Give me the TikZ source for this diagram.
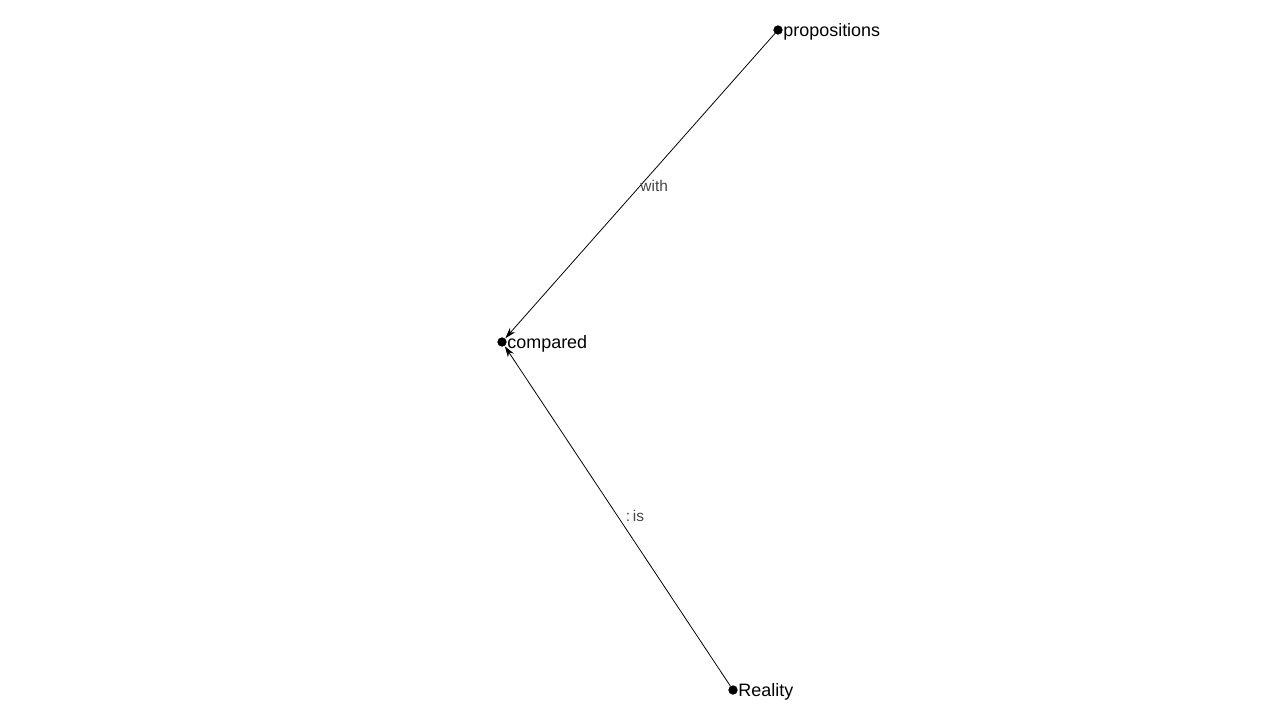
\documentclass[tikz,border=0pt]{standalone}
\usepackage{fontspec}
\setsansfont{Liberation Sans}
\usetikzlibrary{positioning, arrows.meta}
\tikzset{
  every node/.style={font=\sffamily},
  dot/.style={draw, circle, fill=black, minimum size=0.17cm, inner sep=0pt},
  lbl/.style={font=\sffamily\fontsize{10.2}{12}\selectfont, inner sep=0pt, label distance=0.3pt,
              yshift=-0.03cm},
  arr/.style={-{Stealth[length=2.2mm, width=1.4mm]}, line width=0.45pt, shorten >=0.3pt},
  elab/.style={font=\sffamily\fontsize{8.8}{10}\selectfont, text=gray!55!black, inner sep=0pt, anchor=west},
}

\begin{document}
\begin{tikzpicture}[x=0.02cm, y=-0.02cm]
  \useasboundingbox (0,0) rectangle (1280,720);
  % the three terms
  \node[dot, label={[lbl]right:propositions}] (prop) at (778,30) {};
  \node[dot, label={[lbl]right:compared}] (comp) at (502,342) {};
  \node[dot, label={[lbl]right:Reality}] (real) at (733,690) {};
  % relations
  \draw[arr] (prop) -- node[elab, pos=0.5] {with} (comp);
  \draw[arr] (real) -- node[elab, pos=0.5, xshift=0.16cm] {:\hspace{0.18em}is} (comp);
\end{tikzpicture}
\end{document}
